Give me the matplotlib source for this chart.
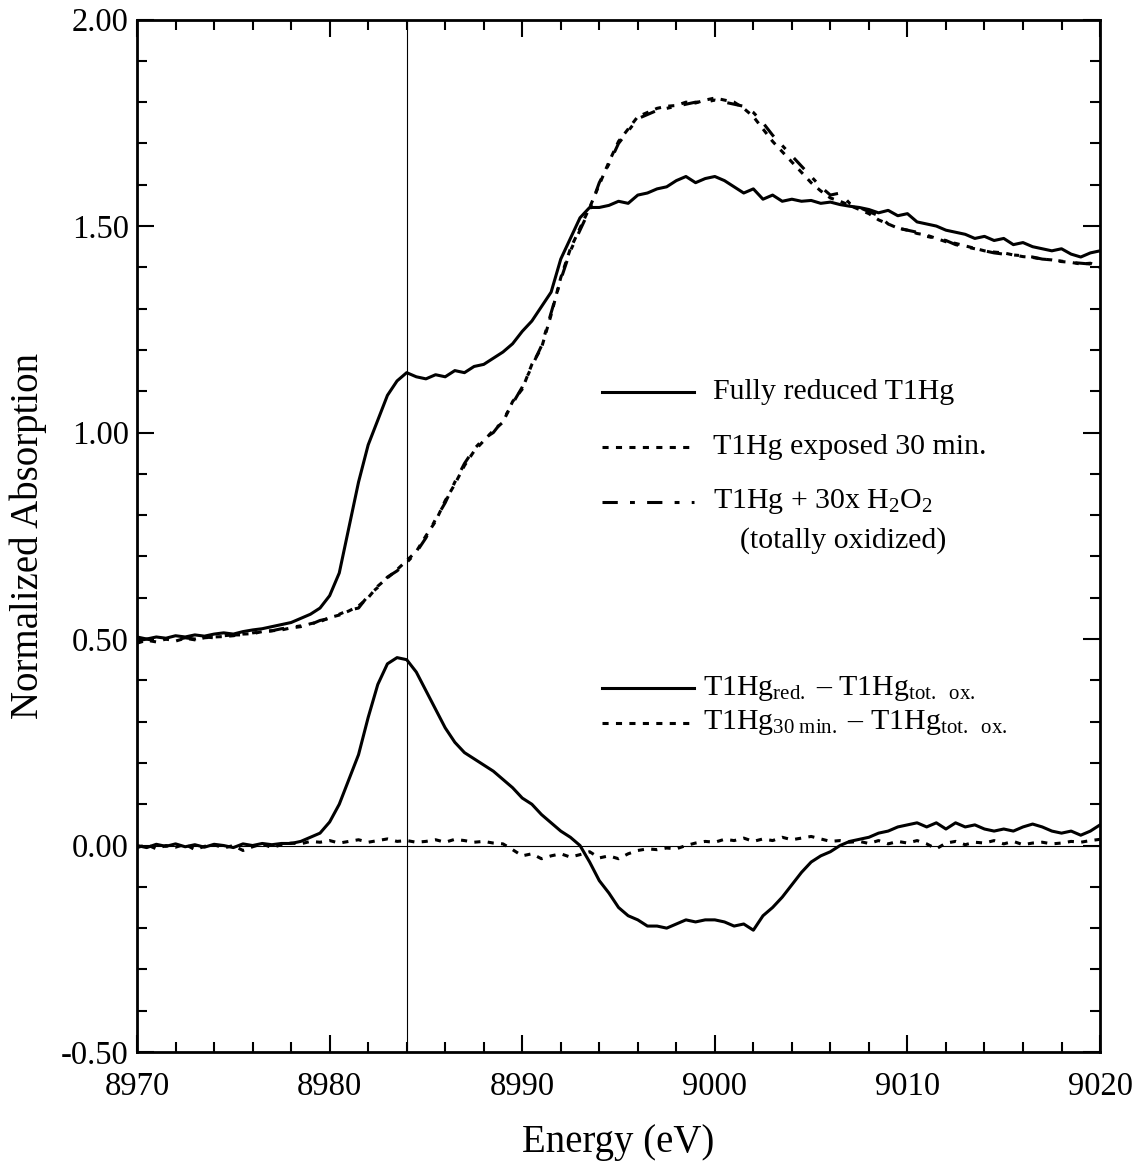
import numpy as np
import matplotlib
matplotlib.use("Agg")
import matplotlib.pyplot as plt
from matplotlib.ticker import MultipleLocator, FormatStrFormatter

plt.rcParams["font.family"] = ["Liberation Serif", "DejaVu Serif"]
plt.rcParams["mathtext.fontset"] = "custom"
plt.rcParams["mathtext.rm"] = "Liberation Serif"
plt.rcParams["mathtext.it"] = "Liberation Serif:italic"
plt.rcParams["axes.unicode_minus"] = False

# energy grid, 0.5 eV steps (8970 .. 9020)
energy = np.arange(8970.0, 9020.01, 0.5)

# fully reduced T1Hg
reduced = [
    0.505, 0.500, 0.505, 0.502, 0.508, 0.505, 0.510, 0.507, 0.512, 0.515,
    0.512, 0.518, 0.522, 0.525, 0.530, 0.535, 0.540, 0.550, 0.560, 0.575,
    0.605, 0.660, 0.770, 0.880, 0.970, 1.030, 1.090, 1.125, 1.145, 1.135,
    1.130, 1.140, 1.135, 1.150, 1.145, 1.160, 1.165, 1.180, 1.195, 1.215,
    1.245, 1.270, 1.305, 1.340, 1.420, 1.470, 1.520, 1.545, 1.545, 1.550,
    1.560, 1.555, 1.575, 1.580, 1.590, 1.595, 1.610, 1.620, 1.605, 1.615,
    1.620, 1.610, 1.595, 1.580, 1.590, 1.565, 1.575, 1.560, 1.565, 1.560,
    1.562, 1.555, 1.558, 1.552, 1.548, 1.545, 1.540, 1.532, 1.538, 1.525,
    1.530, 1.510, 1.505, 1.500, 1.490, 1.485, 1.480, 1.470, 1.475, 1.465,
    1.470, 1.455, 1.460, 1.450, 1.445, 1.440, 1.445, 1.432, 1.425, 1.435,
    1.440,
]

# T1Hg exposed 30 min
exposed_30 = [
    0.490, 0.497, 0.493, 0.500, 0.495, 0.502, 0.498, 0.503, 0.505, 0.506,
    0.508, 0.512, 0.513, 0.518, 0.520, 0.522, 0.527, 0.530, 0.537, 0.542,
    0.552, 0.558, 0.568, 0.580, 0.600, 0.628, 0.648, 0.668, 0.690, 0.712,
    0.750, 0.785, 0.835, 0.875, 0.920, 0.955, 0.980, 1.005, 1.025, 1.075,
    1.105, 1.165, 1.205, 1.285, 1.375, 1.445, 1.495, 1.545, 1.600, 1.655,
    1.705, 1.735, 1.765, 1.775, 1.785, 1.790, 1.792, 1.800, 1.798, 1.805,
    1.810, 1.805, 1.800, 1.785, 1.765, 1.735, 1.705, 1.680, 1.655, 1.630,
    1.605, 1.585, 1.568, 1.560, 1.550, 1.540, 1.530, 1.515, 1.505, 1.495,
    1.490, 1.482, 1.478, 1.470, 1.462, 1.458, 1.452, 1.446, 1.440, 1.437,
    1.435, 1.430, 1.426, 1.424, 1.420, 1.418, 1.414, 1.412, 1.408, 1.410,
    1.400,
]

# T1Hg + 30x H2O2 (totally oxidized)
tot_ox = [
    0.495, 0.500, 0.495, 0.500, 0.498, 0.503, 0.500, 0.505, 0.503, 0.508,
    0.510, 0.510, 0.515, 0.517, 0.520, 0.525, 0.528, 0.532, 0.535, 0.545,
    0.550, 0.560, 0.570, 0.575, 0.605, 0.625, 0.650, 0.665, 0.685, 0.710,
    0.745, 0.790, 0.830, 0.880, 0.925, 0.960, 0.985, 1.000, 1.030, 1.070,
    1.110, 1.160, 1.210, 1.290, 1.370, 1.440, 1.490, 1.540, 1.605, 1.650,
    1.700, 1.730, 1.760, 1.770, 1.780, 1.785, 1.790, 1.795, 1.800, 1.800,
    1.805, 1.800, 1.795, 1.790, 1.775, 1.750, 1.720, 1.695, 1.670, 1.645,
    1.620, 1.595, 1.575, 1.580, 1.555, 1.545, 1.535, 1.525, 1.505, 1.495,
    1.490, 1.485, 1.475, 1.470, 1.465, 1.455, 1.450, 1.445, 1.440, 1.435,
    1.432, 1.430, 1.428, 1.425, 1.420, 1.418, 1.415, 1.412, 1.410, 1.408,
    1.405,
]

# difference spectra
diff_red = [
    0.000, -0.005, 0.003, -0.002, 0.004, -0.003, 0.002, -0.004, 0.003, 0.000,
    -0.005, 0.004, 0.000, 0.005, 0.002, 0.005, 0.005, 0.010, 0.020, 0.030,
    0.057, 0.100, 0.160, 0.220, 0.310, 0.390, 0.440, 0.455, 0.450, 0.420,
    0.375, 0.330, 0.285, 0.250, 0.225, 0.210, 0.195, 0.180, 0.160, 0.140,
    0.115, 0.100, 0.075, 0.055, 0.035, 0.020, 0.000, -0.040, -0.085, -0.115,
    -0.150, -0.170, -0.180, -0.195, -0.195, -0.200, -0.190, -0.180, -0.185, -0.180,
    -0.180, -0.185, -0.195, -0.190, -0.205, -0.170, -0.150, -0.125, -0.095, -0.065,
    -0.040, -0.025, -0.015, 0.000, 0.010, 0.015, 0.020, 0.030, 0.035, 0.045,
    0.050, 0.055, 0.045, 0.055, 0.040, 0.055, 0.045, 0.050, 0.040, 0.035,
    0.040, 0.035, 0.045, 0.052, 0.045, 0.035, 0.030, 0.035, 0.025, 0.035,
    0.050,
]

diff_30 = [
    -0.005, 0.002, -0.008, 0.000, -0.004, 0.003, -0.010, -0.002, 0.002, -0.006,
    0.000, -0.012, -0.003, 0.004, -0.005, 0.002, 0.006, 0.004, 0.010, 0.008,
    0.012, 0.006, 0.010, 0.014, 0.008, 0.012, 0.016, 0.010, 0.012, 0.008,
    0.010, 0.014, 0.008, 0.015, 0.012, 0.008, 0.010, 0.006, 0.004, -0.010,
    -0.025, -0.020, -0.032, -0.025, -0.020, -0.028, -0.022, -0.015, -0.030, -0.025,
    -0.032, -0.020, -0.012, -0.008, -0.010, -0.006, -0.008, 0.000, 0.006, 0.010,
    0.008, 0.015, 0.012, 0.018, 0.010, 0.016, 0.012, 0.020, 0.014, 0.018,
    0.022, 0.016, 0.010, 0.012, 0.008, 0.010, 0.005, 0.012, 0.004, 0.010,
    0.006, 0.012, 0.004, -0.008, 0.006, 0.010, 0.002, 0.008, 0.006, 0.012,
    0.004, 0.010, 0.002, 0.006, 0.008, 0.004, 0.006, 0.010, 0.008, 0.012,
    0.015,
]

edge_energy = 8984.0

LW = 2.2
DOT = (0, (2.0, 2.4))
DASHDOT = (0, (5, 4, 1.6, 4))

fig = plt.figure(figsize=(11.43, 11.64), dpi=100)
ax = fig.add_axes([0.1199, 0.0962, 0.8425, 0.887])

ax.axvline(edge_energy, color="black", lw=0.8)
ax.axhline(0.0, color="black", lw=0.8)

ax.plot(energy, reduced, color="black", lw=LW, ls="-")
ax.plot(energy, exposed_30, color="black", lw=LW, ls=DOT)
ax.plot(energy, tot_ox, color="black", lw=LW, ls=DASHDOT)
ax.plot(energy, diff_red, color="black", lw=LW, ls="-")
ax.plot(energy, diff_30, color="black", lw=LW, ls=DOT)

ax.set_xlim(8970, 9020)
ax.set_ylim(-0.5, 2.0)
ax.xaxis.set_major_locator(MultipleLocator(10))
ax.xaxis.set_minor_locator(MultipleLocator(2))
ax.yaxis.set_major_locator(MultipleLocator(0.5))
ax.yaxis.set_minor_locator(MultipleLocator(0.1))
ax.yaxis.set_major_formatter(FormatStrFormatter("%.2f"))

ax.tick_params(which="both", direction="in", top=True, right=True, width=1.5)
ax.tick_params(which="major", length=12, labelsize=23.5)
ax.tick_params(axis="x", which="major", pad=14)
ax.tick_params(axis="y", which="major", pad=6)
ax.tick_params(which="minor", length=7)
for sp in ax.spines.values():
    sp.set_linewidth(2.0)

ax.set_xlabel("Energy (eV)", fontsize=28, labelpad=16)
ax.set_ylabel("Normalized Absorption", fontsize=28, labelpad=10)

# hand-placed key, as in the original figure
fs = 21.5
t = ax.transAxes
rows = [
    (0.639, "-", "Fully reduced T1Hg", 0.598),
    (0.586, DOT, "T1Hg exposed 30 min.", 0.598),
    (0.533, DASHDOT, "T1Hg + 30x H$_2$O$_2$", 0.598),
    (0.3525, "-", "T1Hg$_{\\mathrm{red.}}$ \u2013 T1Hg$_{\\mathrm{tot.\\ \\ ox.}}$", 0.588),
    (0.3187, DOT, "T1Hg$_{\\mathrm{30\\ min.}}$ \u2013 T1Hg$_{\\mathrm{tot.\\ \\ ox.}}$", 0.588),
]
for y, ls, label, tx in rows:
    ax.plot([0.483, 0.578], [y, y], transform=t, color="black", lw=LW, ls=ls)
    ax.text(tx, y, label, transform=t, fontsize=fs, va="center", ha="left")
ax.text(0.733, 0.495, "(totally oxidized)", transform=t, fontsize=fs,
        va="center", ha="center")

fig.savefig("out.png", dpi=100)
